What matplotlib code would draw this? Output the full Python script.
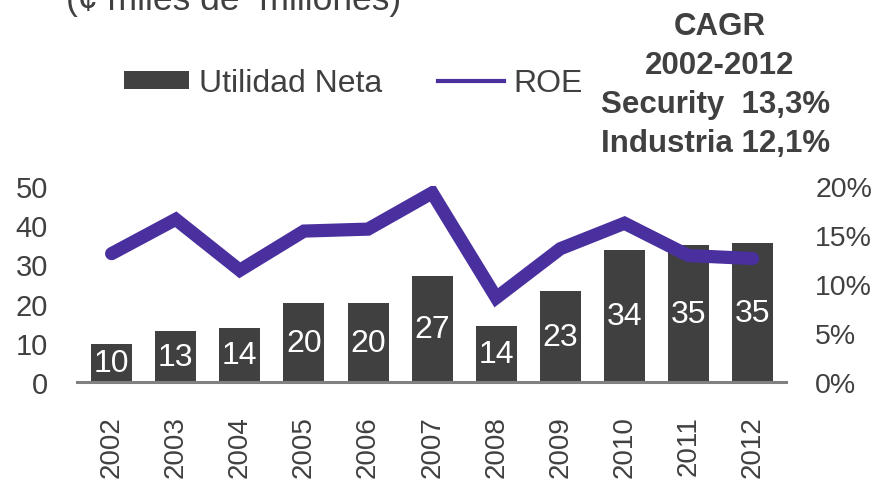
import matplotlib
matplotlib.use("Agg")
import matplotlib.pyplot as plt
from matplotlib.patches import Patch
from matplotlib.lines import Line2D
from matplotlib.ticker import FuncFormatter
import numpy as np

years = ['2002', '2003', '2004', '2005', '2006', '2007', '2008', '2009', '2010', '2011', '2012']
utilidad_neta = [9.7, 13.0, 13.7, 20.1, 20.1, 27.0, 14.2, 23.2, 33.6, 34.9, 35.4]
roe_pct = [13.1, 16.6, 11.4, 15.4, 15.6, 19.3, 8.6, 13.6, 16.2, 12.9, 12.6]
left_ticks = [0, 10, 20, 30, 40, 50]
right_ticks = [0, 5, 10, 15, 20]
title_text = "(¢ miles de  millones)"
cagr_lines = ["CAGR", "2002-2012", "Security  13,3%", "Industria 12,1%"]

plt.rcParams['font.family'] = ['Liberation Sans', 'DejaVu Sans']
TXT = '#404040'
BAR = '#404040'
LINE = '#4A2F9E'

W, H = 879, 485
fig = plt.figure(figsize=(W / 100, H / 100), dpi=100)
ax = fig.add_axes([77 / W, 1 - 383 / H, (786 - 77) / W, (383 - 187) / H])
ax2 = ax.twinx()

x = np.arange(len(years))
bars = ax.bar(x, utilidad_neta, width=0.64, color=BAR, zorder=2)
ax.bar_label(bars, labels=[f"{v:.0f}" for v in utilidad_neta], label_type='center',
             color='white', fontsize=23)

ax2.plot(x, roe_pct, color=LINE, lw=9.5, solid_capstyle='round',
         solid_joinstyle='miter', zorder=3)

ax.set_xlim(-0.54, 10.52)
ax.set_ylim(0, 50)
ax2.set_ylim(0, 20)
ax.set_yticks(left_ticks)
ax2.set_yticks(right_ticks)
ax2.yaxis.set_major_formatter(FuncFormatter(lambda v, p: f"{v:.0f}%"))
ax.set_xticks(x)
ax.set_xticklabels(years, rotation=90)

for a in (ax, ax2):
    for s in ('top', 'left', 'right', 'bottom'):
        a.spines[s].set_visible(False)
ax.spines['bottom'].set_visible(True)
ax.spines['bottom'].set_color('#808080')
ax.spines['bottom'].set_linewidth(2.2)

ax.tick_params(axis='y', length=0, pad=21, labelsize=21, labelcolor=TXT)
ax2.tick_params(axis='y', length=0, pad=21, labelsize=20.5, labelcolor=TXT)
ax.tick_params(axis='x', length=0, pad=24, labelsize=20, labelcolor=TXT)

ax.set_zorder(1)
ax2.set_zorder(2)
ax.patch.set_visible(False)

handles = [Patch(facecolor=BAR, edgecolor='none', label='Utilidad Neta'),
           Line2D([0], [0], color=LINE, lw=3, label='ROE')]
fig.legend(handles=handles, loc='center left', bbox_to_anchor=(124 / W, 1 - 84 / H),
           ncol=2, frameon=False, fontsize=23, handlelength=2.05, handleheight=0.5,
           handletextpad=0.3, columnspacing=1.75, borderpad=0, borderaxespad=0,
           labelcolor=TXT)

fig.text(234 / W, 1 - 10 / H, title_text, ha='center', va='baseline', fontsize=25.5, color=TXT)

baselines = [35, 74, 113, 152]
centers = [720, 720, 716, 716]
for t, b, c in zip(cagr_lines, baselines, centers):
    fig.text(c / W, 1 - b / H, t, ha='center', va='baseline', fontsize=22.5,
             fontweight='bold', color=TXT)

fig.savefig('out.png', dpi=100)
